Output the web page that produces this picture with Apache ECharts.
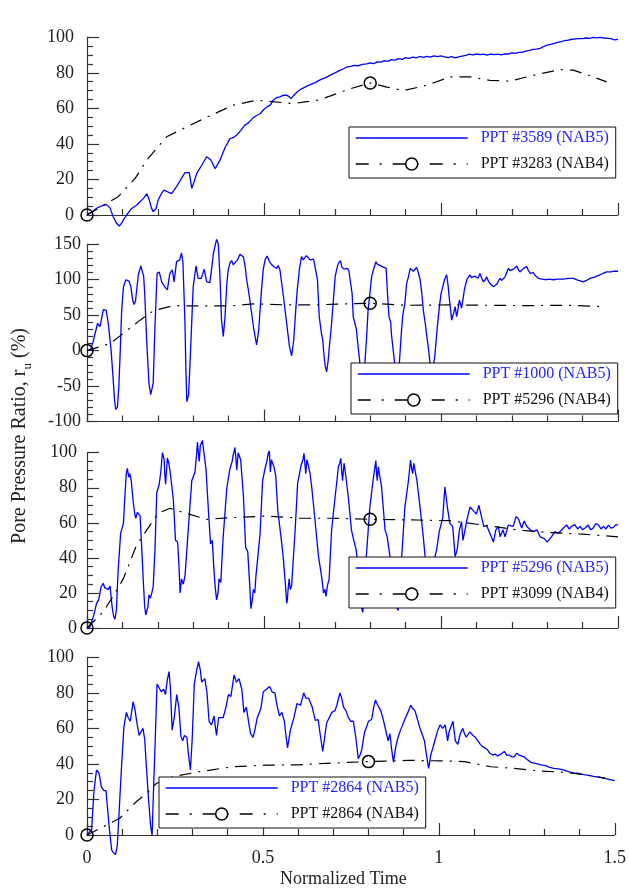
<!DOCTYPE html>
<html>
<head>
<meta charset="utf-8">
<script src="https://cdn.jsdelivr.net/npm/echarts@6/dist/echarts.min.js"></script>
<style>
  html, body { margin: 0; padding: 0; background: #fff; }
  #chart { width: 629px; height: 890px; }
</style>
</head>
<body>
<div id="chart"></div>
<script>
// Shared time axis ticks
const timeTicks = [0, 0.5, 1, 1.5];

// Series labels
const namesNAB5 = ['PPT #3589 (NAB5)', 'PPT #1000 (NAB5)', 'PPT #5296 (NAB5)', 'PPT #2864 (NAB5)'];
const namesNAB4 = ['PPT #3283 (NAB4)', 'PPT #5296 (NAB4)', 'PPT #3099 (NAB4)', 'PPT #2864 (NAB4)'];

// Times at which the NAB4 records carry an open-circle marker
const markerTimes = [0, 0.8];

// Y-axis ranges per panel: [min, max, interval, minor splits]
const yRanges = [[0, 100, 20, 4], [-100, 150, 50, 5], [0, 100, 20, 4], [0, 100, 20, 4]];

// NAB5 records: [normalized time, r_u (%)]
const ppt3589 = [[0,0.5],[0.013,1.5],[0.027,3.8],[0.04,5],[0.054,6],[0.065,4],[0.074,-1],[0.083,-4.5],[0.091,-6.2],[0.1,-4],[0.105,-2],[0.112,0],[0.126,3.7],[0.14,5.5],[0.15,7.5],[0.16,9.5],[0.169,12],[0.176,8.4],[0.182,4],[0.187,1.9],[0.19,1],[0.195,3.5],[0.201,8.4],[0.21,12],[0.2175,14],[0.228,13],[0.239,12],[0.246,14],[0.253,16],[0.265,20],[0.277,23.8],[0.289,23.8],[0.296,15],[0.303,19],[0.31,23.4],[0.324,28],[0.338,32.8],[0.35,31],[0.362,26],[0.376,31],[0.39,38],[0.404,43],[0.413,43.5],[0.423,45],[0.434,47.5],[0.446,50.6],[0.457,52],[0.468,54.5],[0.479,56],[0.489,57],[0.5,59.5],[0.51,61],[0.518,62],[0.526,64.6],[0.535,66],[0.545,66.5],[0.555,67.5],[0.564,67.4],[0.57,66.8],[0.576,65.5],[0.585,67.5],[0.595,69.5],[0.606,71],[0.616,72],[0.626,73],[0.636,73.8],[0.645,74.5],[0.653,75.5],[0.663,76.5],[0.673,77.2],[0.683,78.3],[0.696,79.6],[0.706,80.5],[0.716,81.5],[0.725,82.3],[0.734,83.3],[0.745,83.6],[0.756,84.2],[0.767,84],[0.778,84.8],[0.79,85],[0.8,85.6],[0.81,85.2],[0.82,86.2],[0.83,86],[0.84,86.9],[0.85,86.5],[0.86,87.4],[0.87,87.2],[0.88,88],[0.89,87.6],[0.9,88.6],[0.91,88.2],[0.92,88.9],[0.93,88.4],[0.94,89.2],[0.95,88.7],[0.96,89.3],[0.97,88.8],[0.98,89.6],[0.99,89.1],[1.0,89.5],[1.01,89],[1.02,88.6],[1.03,89.1],[1.04,88.4],[1.05,89],[1.06,89.4],[1.07,89.8],[1.08,90.5],[1.09,90.1],[1.1,90.6],[1.11,90.2],[1.12,90.5],[1.13,90],[1.14,90.6],[1.15,90.2],[1.16,90.5],[1.17,90.1],[1.18,90.7],[1.19,90.6],[1.2,91.2],[1.21,91],[1.22,91.5],[1.23,91.6],[1.24,92.2],[1.25,92.6],[1.26,93.2],[1.27,93.3],[1.28,93.8],[1.29,94.8],[1.3,95.6],[1.31,96],[1.32,96.6],[1.33,97.2],[1.34,97.6],[1.35,98.2],[1.36,98.4],[1.37,98.9],[1.38,99.1],[1.39,99.3],[1.4,99.2],[1.41,99.6],[1.42,99.4],[1.43,99.9],[1.44,99.7],[1.45,100],[1.46,99.6],[1.47,99.4],[1.48,99.2],[1.49,98.6],[1.5,98.8]];

const ppt1000 = [[0,0],[0.01,1],[0.017,12],[0.023,24.5],[0.03,38.6],[0.0367,34],[0.04,42],[0.046,58],[0.05,59],[0.054,57],[0.06,38.6],[0.064,20],[0.068,1],[0.074,-41],[0.078,-70],[0.081,-83],[0.086,-80],[0.09,-50],[0.093,-13],[0.098,57],[0.103,90],[0.11,100],[0.115,100],[0.119,98],[0.124,90],[0.129,71.5],[0.133,65],[0.137,70],[0.14,72],[0.145,107],[0.152,119.5],[0.157,118],[0.16,105],[0.163,81],[0.169,10],[0.175,-46],[0.18,-62],[0.183,-64],[0.187,-46],[0.192,34],[0.198,109],[0.204,111],[0.211,97],[0.216,93],[0.22,90],[0.227,85.6],[0.234,109],[0.241,114],[0.246,97],[0.253,125.5],[0.262,128],[0.267,138],[0.271,124],[0.274,80],[0.277,34],[0.279,-20],[0.282,-72],[0.287,-62],[0.291,-18],[0.295,30],[0.3,90],[0.308,119.5],[0.314,102],[0.319,100],[0.323,102],[0.331,115],[0.338,97],[0.347,96],[0.352,115],[0.357,137],[0.362,148],[0.366,157],[0.371,150],[0.376,100],[0.38,43],[0.385,20],[0.39,48],[0.395,95],[0.399,114],[0.404,124],[0.409,127],[0.413,121],[0.418,122],[0.425,128],[0.432,136],[0.437,134],[0.442,132],[0.447,118],[0.451,100],[0.456,85],[0.46,71.5],[0.47,34],[0.479,8],[0.485,29],[0.493,86],[0.498,115],[0.503,128],[0.509,133.5],[0.515,126],[0.522,121],[0.529,118],[0.536,116],[0.54,120],[0.545,114],[0.55,95],[0.555,76],[0.564,38.6],[0.572,5.6],[0.578,-7.5],[0.584,15],[0.59,60],[0.594,86],[0.6,115],[0.606,132.6],[0.611,128],[0.616,128],[0.62,134],[0.625,133],[0.63,128],[0.635,126],[0.64,129],[0.644,128],[0.651,100],[0.656,48],[0.662,25],[0.666,15],[0.669,-4],[0.673,-22],[0.677,-30],[0.681,-15],[0.684,2],[0.691,38.6],[0.696,71.5],[0.701,104],[0.705,114],[0.71,123],[0.716,127],[0.72,118],[0.726,115],[0.731,113],[0.736,116],[0.74,112],[0.745,112],[0.749,80],[0.752,48],[0.757,38],[0.761,30],[0.766,5],[0.77,-13],[0.774,-40],[0.778,-50],[0.782,-40],[0.786,-10],[0.79,20],[0.794,57],[0.799,80],[0.804,104],[0.809,114],[0.813,120],[0.816,125.5],[0.82,122],[0.824,121],[0.828,120],[0.833,118],[0.839,117.5],[0.845,116],[0.849,80],[0.853,48],[0.858,40],[0.86,23],[0.864,5],[0.868,-13],[0.872,-35],[0.876,-45],[0.88,-35],[0.884,-5],[0.888,25],[0.892,50],[0.898,67],[0.903,95],[0.908,104],[0.913,116],[0.918,116],[0.922,112],[0.926,111],[0.931,117.5],[0.936,110],[0.941,100],[0.946,80],[0.95,57],[0.955,40],[0.96,20],[0.964,5],[0.969,-17],[0.974,-30],[0.978,-25],[0.983,-5],[0.989,30],[0.995,60],[1.0,80],[1.005,90],[1.01,100],[1.016,107],[1.02,92],[1.023,76],[1.027,58],[1.03,43],[1.035,52],[1.04,62],[1.044,48],[1.048,58],[1.052,71.5],[1.058,60],[1.062,72],[1.066,86],[1.07,94],[1.073,100],[1.078,104],[1.082,107],[1.086,103],[1.091,102],[1.096,105],[1.101,107],[1.105,102],[1.11,109],[1.115,102],[1.12,97],[1.125,100],[1.129,104],[1.134,98],[1.138,95],[1.143,93],[1.148,90],[1.152,88],[1.158,94],[1.163,99],[1.167,102],[1.171,99],[1.176,97],[1.181,104],[1.186,111],[1.19,116],[1.195,113],[1.2,111],[1.205,115],[1.21,117],[1.214,119.5],[1.219,114],[1.223,111],[1.228,113],[1.233,116],[1.238,117],[1.242,118.5],[1.247,113],[1.252,109],[1.256,111],[1.261,110],[1.266,106],[1.27,104],[1.275,102],[1.285,101],[1.294,100],[1.305,101],[1.318,100],[1.33,101],[1.346,101],[1.36,102],[1.374,102],[1.388,99],[1.402,97],[1.411,99],[1.421,102],[1.435,104],[1.449,107],[1.458,109],[1.468,111],[1.48,111],[1.49,112],[1.5,112]];

const ppt5296a = [[0,0],[0.007,0],[0.018,6.5],[0.027,14],[0.033,16],[0.04,23.6],[0.046,25.5],[0.05,23],[0.054,22],[0.06,22],[0.065,24],[0.071,12],[0.075,7],[0.079,5],[0.083,10],[0.088,33],[0.095,54],[0.103,60],[0.107,75],[0.111,88],[0.114,91],[0.118,86],[0.121,88],[0.125,84],[0.131,71],[0.135,65],[0.138,62.6],[0.142,66],[0.145,67],[0.15,64],[0.154,48],[0.159,27],[0.163,12],[0.166,7.4],[0.172,12],[0.175,19],[0.179,17],[0.183,20],[0.187,23.6],[0.192,44.5],[0.197,77],[0.204,82],[0.209,90],[0.213,100],[0.218,96],[0.22,87],[0.222,82],[0.227,97],[0.231,94],[0.235,89],[0.244,73],[0.25,50],[0.256,49],[0.26,35],[0.263,20],[0.267,28],[0.272,25],[0.277,30],[0.286,56],[0.296,84],[0.305,89],[0.31,100],[0.312,106],[0.317,95],[0.32,104],[0.322,105],[0.326,107],[0.329,106],[0.336,91],[0.343,67],[0.349,48],[0.354,50],[0.358,35],[0.362,23.6],[0.366,16],[0.37,20],[0.373,28],[0.378,26],[0.384,50],[0.395,80],[0.404,91],[0.41,95],[0.413,98.7],[0.418,103],[0.421,96],[0.423,90],[0.427,100],[0.434,96],[0.442,75],[0.448,46],[0.454,43.6],[0.46,23.6],[0.463,11],[0.467,16],[0.47,22],[0.474,20],[0.477,29],[0.489,54],[0.496,84],[0.503,91],[0.508,95],[0.512,99.6],[0.515,101],[0.518,89],[0.521,96],[0.524,97],[0.528,92],[0.533,87],[0.539,67],[0.548,52],[0.554,41],[0.561,23.6],[0.564,14],[0.566,16],[0.568,22],[0.571,28],[0.574,22],[0.578,24],[0.588,56],[0.595,82.5],[0.605,93],[0.61,96],[0.613,99.6],[0.616,99.6],[0.618,88],[0.621,96],[0.625,93],[0.63,88],[0.635,80],[0.644,61.6],[0.654,40.7],[0.663,29],[0.668,20],[0.672,22],[0.675,18],[0.679,24],[0.684,28],[0.691,56],[0.701,75],[0.706,84],[0.71,92],[0.714,94],[0.717,96.8],[0.72,88],[0.722,84],[0.726,94],[0.729,90],[0.738,75],[0.747,56],[0.753,50.6],[0.76,45],[0.765,36],[0.77,22],[0.775,12],[0.779,9],[0.783,10],[0.786,25],[0.789,40.7],[0.799,69],[0.808,84],[0.812,90],[0.816,95.5],[0.818,88],[0.82,84],[0.823,92],[0.826,88],[0.832,80.6],[0.842,56],[0.848,52],[0.856,40.7],[0.864,28],[0.87,18],[0.875,12],[0.879,10],[0.883,18],[0.889,40.7],[0.898,69],[0.908,84],[0.911,90],[0.914,95.8],[0.917,91],[0.92,88],[0.923,94],[0.926,93],[0.932,84],[0.943,65],[0.95,52],[0.955,40.7],[0.962,33],[0.968,30],[0.974,33],[0.98,38],[0.988,45],[0.995,55],[1.005,63],[1.011,80.6],[1.018,69],[1.025,59.7],[1.033,58],[1.04,40.7],[1.046,45],[1.052,56],[1.058,60.6],[1.062,50],[1.067,55],[1.073,61.6],[1.082,69],[1.086,70],[1.093,66.5],[1.1,65],[1.107,70],[1.115,63],[1.121,57.8],[1.129,58.5],[1.138,54],[1.148,49],[1.155,56],[1.162,58],[1.167,52],[1.175,56],[1.181,52],[1.19,58.7],[1.204,58],[1.212,63.5],[1.218,62.6],[1.228,57],[1.235,61],[1.242,58],[1.252,56],[1.261,55],[1.271,56],[1.28,52],[1.292,51],[1.3,49],[1.312,52],[1.322,55],[1.331,54],[1.346,57],[1.355,58.7],[1.362,56.5],[1.369,58],[1.378,59],[1.386,56.5],[1.393,58],[1.4,56],[1.407,57],[1.416,58.7],[1.423,56],[1.43,57],[1.437,59.5],[1.444,59],[1.452,56.5],[1.459,58],[1.466,56.5],[1.473,58.7],[1.48,57],[1.487,57.4],[1.494,59],[1.5,58.7]];

const ppt2864a = [[0,0],[0.013,3],[0.02,25],[0.027,36.6],[0.034,35],[0.041,27],[0.048,25],[0.054,25],[0.057,18],[0.063,4.7],[0.07,-8.4],[0.075,-10],[0.081,-11],[0.086,-6],[0.091,12],[0.098,38],[0.105,61],[0.112,69],[0.117,66],[0.123,64],[0.131,75],[0.136,71],[0.142,63],[0.148,56],[0.152,55.5],[0.159,60],[0.164,54],[0.169,38],[0.175,19.7],[0.181,4.7],[0.185,0],[0.189,25],[0.194,54],[0.199,85],[0.204,84],[0.211,80.6],[0.218,82],[0.223,79],[0.228,87],[0.233,92],[0.237,83],[0.242,59],[0.248,66],[0.255,79],[0.261,72],[0.267,55.5],[0.272,53],[0.277,56],[0.284,55],[0.288,46],[0.294,36.6],[0.299,54],[0.305,85],[0.312,93],[0.317,97.5],[0.322,93],[0.326,86],[0.329,87],[0.335,88],[0.341,80],[0.347,64],[0.354,62],[0.361,67],[0.368,56],[0.374,66],[0.381,66],[0.387,66],[0.395,72],[0.402,79],[0.409,78],[0.418,90],[0.425,86],[0.432,88],[0.44,82],[0.446,69],[0.453,72],[0.459,64],[0.465,57],[0.472,55],[0.477,59],[0.484,66],[0.494,71],[0.501,80.6],[0.51,82],[0.519,83.5],[0.522,84],[0.526,80.6],[0.534,80],[0.54,73],[0.547,67],[0.554,69],[0.561,64],[0.566,55],[0.57,49],[0.578,59],[0.588,66],[0.597,74],[0.607,73],[0.616,80],[0.622,77],[0.63,77],[0.64,72],[0.649,64.5],[0.657,65],[0.664,55],[0.67,47],[0.681,63],[0.696,69],[0.705,70],[0.71,73],[0.719,80],[0.724,77],[0.729,72],[0.736,70],[0.743,66],[0.75,64],[0.757,64],[0.764,55],[0.771,43],[0.776,45],[0.781,48],[0.789,58],[0.795,61],[0.8,64],[0.809,65],[0.815,72],[0.82,76],[0.824,74],[0.828,73],[0.835,70],[0.842,65],[0.847,64],[0.856,53],[0.861,57],[0.866,48],[0.871,41],[0.878,50],[0.884,55],[0.893,60],[0.903,65],[0.912,69],[0.92,73],[0.926,71],[0.932,70],[0.938,66],[0.945,61],[0.952,57],[0.959,53],[0.965,45],[0.971,37.5],[0.977,45],[0.983,49],[0.99,54],[0.997,59],[1.004,62],[1.011,60],[1.018,62],[1.025,53],[1.029,58],[1.033,59],[1.04,64],[1.047,53],[1.054,51],[1.061,57],[1.068,60],[1.073,57],[1.078,55],[1.088,58],[1.097,56],[1.104,55],[1.111,53],[1.118,51],[1.124,49.7],[1.131,49],[1.138,48],[1.145,46],[1.153,45],[1.16,45.5],[1.167,44.5],[1.176,45.5],[1.186,47],[1.193,45],[1.2,45],[1.207,44],[1.214,44],[1.221,46],[1.228,45],[1.235,44.5],[1.242,44],[1.251,42.5],[1.261,41],[1.27,40.5],[1.28,40],[1.29,39.5],[1.303,39],[1.315,38],[1.327,37.5],[1.34,37.2],[1.355,36.6],[1.37,35.5],[1.384,35],[1.398,34.6],[1.412,34],[1.426,33.6],[1.44,33],[1.454,32.6],[1.468,32],[1.484,31.3],[1.5,30.6]];

// NAB4 records: [normalized time, r_u (%)]
const ppt3283 = [[0,0],[0.088,10.3],[0.136,20.6],[0.169,31],[0.225,44],[0.282,49.6],[0.338,55],[0.413,61.8],[0.479,64.6],[0.583,62.7],[0.616,63.7],[0.653,64.6],[0.686,66.9],[0.743,71],[0.8,74.3],[0.847,72],[0.894,70],[0.96,73],[1.025,77.7],[1.082,77.7],[1.138,75.8],[1.195,75.3],[1.261,78.6],[1.336,81.8],[1.374,81.5],[1.412,79],[1.468,74.9]];

const ppt5296b = [[0,0],[0.065,10],[0.103,24.5],[0.15,43],[0.187,56],[0.244,63.5],[0.302,63],[0.405,63],[0.47,66],[0.564,64.5],[0.64,64.5],[0.706,65.5],[0.8,66.8],[0.904,64],[1.026,64.5],[1.129,64],[1.242,63.5],[1.355,64],[1.463,62]];

const ppt3099 = [[0,0],[0.046,9.3],[0.079,19.8],[0.103,28.3],[0.14,47.3],[0.169,56],[0.201,65.4],[0.234,68.3],[0.281,65.4],[0.338,62],[0.413,63],[0.508,63.9],[0.602,62.6],[0.696,62.6],[0.8,62],[0.932,61.6],[1.025,61.2],[1.12,58.7],[1.214,56],[1.308,54.4],[1.402,53.5],[1.5,52]];

const ppt2864b = [[0,0],[0.02,2],[0.093,9.4],[0.14,18.7],[0.169,23.4],[0.197,29],[0.244,32.8],[0.319,35.6],[0.413,38.4],[0.508,39.3],[0.602,39.5],[0.696,40.5],[0.8,41.3],[0.913,42],[1.007,41.7],[1.073,41.3],[1.148,38.4],[1.214,37.5],[1.289,36],[1.355,35.3],[1.412,34],[1.473,32]];

const recordsNAB5 = [ppt3589, ppt1000, ppt5296a, ppt2864a];
const recordsNAB4 = [ppt3283, ppt5296b, ppt3099, ppt2864b];

// ---- layout & styling ----
const SERIF = 'Liberation Serif, Times New Roman, serif';
const INK = '#222';
const AXIS = { color: '#333', width: 1.2 };
const gridBoxes = [
  { top: 37.3, height: 177.7 },
  { top: 244.3, height: 177.2 },
  { top: 452.7, height: 175.3 },
  { top: 657.3, height: 177.7 }
];
const yLabelMargins = [13, 6, 10, 13];
const legendBoxes = [
  { left: 349, top: 127 },
  { left: 351, top: 363 },
  { left: 349, top: 557 },
  { left: 159, top: 777 }
];

const grids = gridBoxes.map(g => ({ left: 87, width: 531, top: g.top, height: g.height }));

const xAxes = gridBoxes.map((g, i) => ({
  type: 'value', gridIndex: i,
  min: timeTicks[0], max: timeTicks[timeTicks.length - 1], interval: timeTicks[1] - timeTicks[0],
  axisLine: { show: true, onZero: false, lineStyle: AXIS },
  axisTick: { show: true, inside: true, length: 12, lineStyle: AXIS },
  minorTick: { show: true, splitNumber: 5, length: 6, lineStyle: AXIS },
  splitLine: { show: false },
  minorSplitLine: { show: false },
  axisLabel: { show: i === 3, color: INK, fontFamily: SERIF, fontSize: 18, margin: 14 }
}));

const yAxes = yRanges.map((r, i) => ({
  type: 'value', gridIndex: i,
  min: r[0], max: r[1], interval: r[2],
  axisLine: { show: true, onZero: false, lineStyle: AXIS },
  axisTick: { show: true, inside: true, length: 12, lineStyle: AXIS },
  minorTick: { show: true, splitNumber: r[3], length: 6, lineStyle: AXIS },
  splitLine: { show: false },
  minorSplitLine: { show: false },
  axisLabel: { color: INK, fontFamily: SERIF, fontSize: 18, margin: yLabelMargins[i] }
}));

const series = [];
recordsNAB5.forEach((rec, i) => {
  series.push({
    type: 'line', name: namesNAB5[i], xAxisIndex: i, yAxisIndex: i,
    data: rec, symbol: 'none', showSymbol: false, clip: false, z: 2,
    lineStyle: { color: '#0000ff', width: 1.3 },
    itemStyle: { color: 'rgba(0,0,255,0)' }
  });
});
recordsNAB4.forEach((rec, i) => {
  series.push({
    type: 'line', name: namesNAB4[i], xAxisIndex: i, yAxisIndex: i,
    data: rec.map(p => ({ value: p, symbol: markerTimes.includes(p[0]) ? 'circle' : 'none' })),
    symbol: 'circle', symbolSize: 12, showSymbol: true, showAllSymbol: true, clip: false, z: 3,
    lineStyle: { color: '#000', width: 1.2, type: [12, 7, 2, 7] },
    itemStyle: { color: 'rgba(255,255,255,0)', borderColor: '#000', borderWidth: 1.5 }
  });
});

const legends = legendBoxes.map((b, i) => ({
  left: b.left, top: b.top, orient: 'vertical',
  data: [
    { name: namesNAB5[i], textStyle: { color: '#2424ff' }, itemStyle: { opacity: 0 } },
    {
      name: namesNAB4[i], textStyle: { color: '#111' },
      itemStyle: { color: '#fff' },
      lineStyle: { type: [13, 11, 2, 11], dashOffset: 0 }
    }
  ],
  itemWidth: 112, itemHeight: 15, itemGap: 10,
  padding: [3, 7, 6, 6],
  backgroundColor: '#fff', borderColor: '#111', borderWidth: 1, borderRadius: 0,
  textStyle: { fontFamily: SERIF, fontSize: 16, padding: [0, 0, 0, 8] },
  lineStyle: { width: 1.4 },
  itemStyle: { borderWidth: 1.5 },
  selectedMode: false, z: 10
}));

const chart = echarts.init(document.getElementById('chart'), null, { renderer: 'canvas' });
chart.setOption({
  animation: false,
  backgroundColor: '#fff',
  grid: grids,
  xAxis: xAxes,
  yAxis: yAxes,
  legend: legends,
  series: series,
  graphic: [
    {
      type: 'text', left: 280, top: 870,
      style: { text: 'Normalized Time', fill: INK, font: '18px ' + SERIF }
    },
    {
      type: 'text', x: 20, y: 436, rotation: Math.PI / 2,
      style: {
        text: '{a|Pore Pressure Ratio, r}{s|u}{a| (%)}',
        align: 'center', verticalAlign: 'middle', fill: INK,
        rich: {
          a: { fontFamily: SERIF, fontSize: 20, lineHeight: 28, fill: INK },
          s: { fontFamily: SERIF, fontSize: 13, lineHeight: 28, verticalAlign: 'bottom', fill: INK }
        }
      }
    }
  ]
});
</script>
</body>
</html>
